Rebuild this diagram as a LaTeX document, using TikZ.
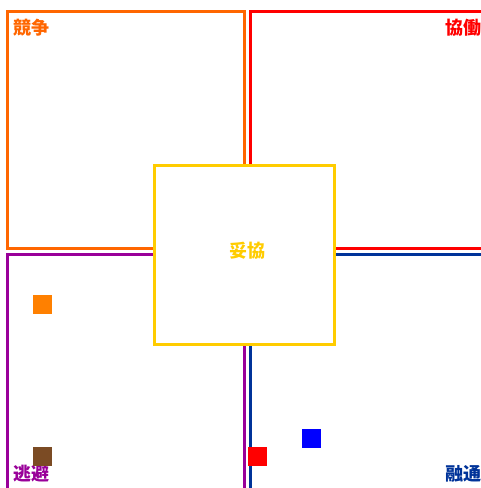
\documentclass[tikz,border=0pt]{standalone}
\usepackage{fontspec}
\newfontfamily\cjk{Noto Sans CJK JP}
\definecolor{cOrange}{HTML}{FF6600}
\definecolor{cRed}{HTML}{FF0000}
\definecolor{cPurple}{HTML}{990099}
\definecolor{cBlue}{HTML}{003399}
\definecolor{cYellow}{HTML}{FFCC00}
\definecolor{sqOrange}{HTML}{FF8000}
\definecolor{sqBrown}{HTML}{7B4B24}
\definecolor{sqBlue}{HTML}{0000FF}
\begin{document}
\begin{tikzpicture}[x=1pt,y=-1pt,
  quad/.style={line width=3pt},
  lbl/.style={font=\cjk\bfseries\fontsize{18}{20}\selectfont, inner sep=0pt},
  sq/.style={minimum size=19pt, inner sep=0pt, draw=none}]
\useasboundingbox (0,0) rectangle (481,488);
\clip (0,0) rectangle (481,488);
\draw[quad, cOrange] (7.5,11.5) rectangle (244.5,248);
\draw[quad, cRed] (250.5,11.5) rectangle (487.5,248);
\draw[quad, cPurple] (7.5,254.5) rectangle (244.5,491.5);
\draw[quad, cBlue] (250.5,254.5) rectangle (487.5,491.5);
\node[lbl, text=cOrange, anchor=north west] (l1) at (13,19) {競争};
\node[lbl, text=cRed, anchor=north east] (l2) at (482,19) {協働};
\node[lbl, text=cPurple, anchor=south west] (l3) at (13,482) {逃避};
\node[lbl, text=cBlue, anchor=south east] (l4) at (482,482) {融通};
\draw[line width=3pt, cYellow, fill=white] (154.5,165) rectangle (334.5,344);
\node[lbl, text=cYellow] (c) at (247,251) {妥協};
\node[sq, fill=sqOrange, anchor=north west] (s1) at (33,295) {};
\node[sq, fill=sqBrown, anchor=north west] (s2) at (33,447) {};
\node[sq, fill=cRed, anchor=north west] (s3) at (248,447) {};
\node[sq, fill=sqBlue, anchor=north west] (s4) at (302,429) {};
\end{tikzpicture}
\end{document}
